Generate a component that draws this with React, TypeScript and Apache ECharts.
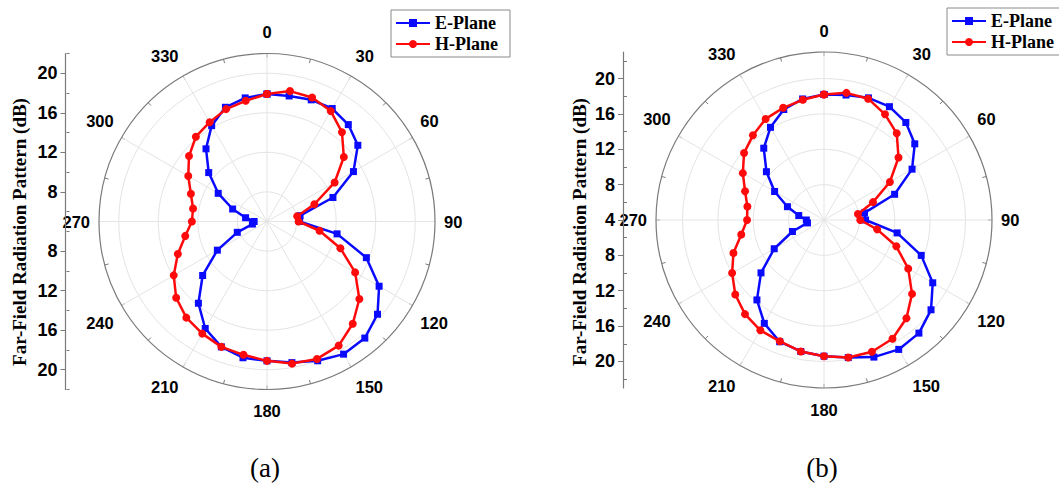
import React, { useEffect, useRef } from 'react';
import * as echarts from 'echarts';

// Angles (degrees) at which the patterns were sampled
const ANGLES = [0, 10, 20, 30, 40, 50, 60, 70, 80, 90, 100, 110, 120, 130, 140, 150, 160, 170,
  180, 190, 200, 210, 220, 230, 240, 250, 260, 270, 280, 290, 300, 310, 320, 330, 340, 350];

// (a) patterns, dB
const E_PLANE_A = [17.9, 17.9, 18.1, 18.2, 17.8, 17.0, 15.1, 12.1, 8.4, 8.3, 12.2, 15.7, 18.1, 19.6, 20.4, 20.5, 20.0, 19.5,
  19.1, 19.0, 18.5, 17.5, 15.8, 13.5, 10.8, 8.2, 6.5, 6.3, 7.2, 8.7, 10.7, 12.7, 14.6, 16.2, 17.3, 17.7];
const H_PLANE_A = [17.9, 18.4, 18.35, 17.9, 16.8, 15.15, 12.9, 10.1, 8.1, 8.2, 10.4, 12.9, 15.3, 17.2, 18.5, 19.5, 19.8, 19.6,
  19.1, 18.7, 18.5, 18.1, 17.7, 17.0, 15.9, 14.6, 13.4, 12.6, 12.6, 13.2, 14.2, 15.3, 16.2, 16.6, 17.1, 17.4];

// (b) patterns, dB
const E_PLANE_B = [18.2, 18.35, 18.7, 18.8, 18.4, 17.4, 15.5, 12.5, 8.65, 8.7, 12.4, 15.7, 18.2, 19.8, 20.7, 20.9, 20.5, 19.8,
  19.4, 19.1, 18.65, 17.5, 15.8, 13.3, 10.5, 7.8, 5.9, 6.0, 6.9, 8.4, 10.45, 12.5, 14.6, 16.1, 17.3, 17.9];
const H_PLANE_B = [18.2, 18.6, 18.6, 17.8, 16.8, 15.0, 12.6, 9.9, 7.9, 8.1, 10.1, 12.7, 15.0, 17.0, 18.5, 19.5, 19.85, 19.8,
  19.4, 19.1, 18.6, 18.4, 17.9, 17.1, 16.0, 14.9, 13.5, 12.7, 12.8, 13.5, 14.6, 15.8, 16.5, 17.2, 17.5, 17.8];

// Radial scales
const RANGE_A = [5, 22];
const RANGE_B = [4, 23];
const MAJOR_TICKS_A = [8, 12, 16, 20];
const MAJOR_TICKS_B = [4, 8, 12, 16, 20];
const MINOR_TICKS = [6, 10, 14, 18, 22];
const CIRCLES = [8, 12, 16, 20];

const SERIES_NAMES = ['E-Plane', 'H-Plane'];
const AXIS_TITLE = 'Far-Field Radiation Pattern (dB)';
const PANEL_LABELS = ['(a)', '(b)'];

const BLUE = '#0a0aff';
const RED = '#ff0a0a';
const SANS = 'Arial, "Liberation Sans", sans-serif';
const SERIF = '"Times New Roman", "Liberation Serif", serif';

function closedPairs(values: number[]) {
  const pts = ANGLES.map((a, i) => [values[i], a]);
  pts.push([values[0], 360]);
  return pts;
}

function mirrored(ticks: number[], center: number) {
  const out: number[] = [];
  ticks.forEach((t) => {
    const d = t - center;
    if (d === 0) out.push(0);
    else if (d > 0) out.push(d, -d);
  });
  return out.sort((a, b) => a - b);
}

export default function App() {
  const ref = useRef<HTMLDivElement>(null);
  useEffect(() => {
    if (!ref.current) return;
    const chart = echarts.init(ref.current, undefined, { renderer: 'svg' });

    const panels = [
      { center: [267, 221.5], radius: 168, range: RANGE_A, major: MAJOR_TICKS_A, axisX: 65.5, e: E_PLANE_A, h: H_PLANE_A, legendLeft: 391, legendTop: 10, titleX: 19, labelX: 265 },
      { center: [824, 220], radius: 168, range: RANGE_B, major: MAJOR_TICKS_B, axisX: 623, e: E_PLANE_B, h: H_PLANE_B, legendLeft: 947, legendTop: 8, titleX: 579, labelX: 822 },
    ];

    const polar: any[] = [];
    const angleAxis: any[] = [];
    const radiusAxis: any[] = [];
    const grid: any[] = [];
    const xAxis: any[] = [];
    const yAxis: any[] = [];
    const legend: any[] = [];
    const series: any[] = [];
    const graphic: any[] = [];

    panels.forEach((p, i) => {
      polar.push({ center: p.center, radius: p.radius });
      angleAxis.push({
        polarIndex: i,
        type: 'value',
        min: 0,
        max: 360,
        interval: 30,
        startAngle: 90,
        clockwise: true,
        axisLine: { show: true, lineStyle: { color: '#7a7a7a', width: 1.2 } },
        axisTick: { show: true, inside: true, length: 4, lineStyle: { color: '#7a7a7a' } },
        minorTick: { show: true, splitNumber: 2, length: 4, lineStyle: { color: '#7a7a7a' } },
        splitLine: { show: true, lineStyle: { color: '#e4e4e4', width: 1 } },
        axisLabel: {
          margin: 9,
          padding: [4, 0, 4, 0],
          color: '#000',
          fontSize: 16.5,
          fontWeight: 'bold',
          fontFamily: SANS,
          formatter: (v: number) => (v >= 360 ? '' : String(v)),
        },
      });
      radiusAxis.push({
        polarIndex: i,
        type: 'value',
        min: p.range[0],
        max: p.range[1],
        axisLine: { show: false },
        axisLabel: { show: false },
        axisTick: { show: false, customValues: CIRCLES },
        splitLine: { show: true, lineStyle: { color: '#e4e4e4', width: 1 } },
      });

      const span = p.range[1] - p.range[0];
      const c = p.range[0];
      const pxPerUnit = p.radius / span;
      grid.push({
        left: p.axisX,
        top: p.center[1] - span * pxPerUnit,
        width: 1,
        height: 2 * span * pxPerUnit,
      });
      xAxis.push({ gridIndex: i, type: 'value', show: false });
      const majorVals = mirrored(p.major, c);
      const minorVals = mirrored(MINOR_TICKS, c);
      yAxis.push({
        gridIndex: i,
        type: 'value',
        min: -span,
        max: span,
        axisLine: { show: true, lineStyle: { color: '#7a7a7a', width: 1.2 } },
        axisTick: { show: true, length: 5, customValues: majorVals, lineStyle: { color: '#7a7a7a' } },
        axisLabel: {
          customValues: majorVals,
          margin: 8,
          color: '#000',
          fontSize: 18,
          fontWeight: 'bold',
          fontFamily: SANS,
          formatter: (v: number) => String(Math.round(c + Math.abs(v))),
        },
        splitLine: { show: false },
      });
      yAxis.push({
        gridIndex: i,
        type: 'value',
        min: -span,
        max: span,
        axisLine: { show: false },
        axisTick: { show: true, length: 3, customValues: minorVals, lineStyle: { color: '#7a7a7a' } },
        axisLabel: { show: false },
        splitLine: { show: false },
      });

      legend.push({
        data: SERIES_NAMES,
        orient: 'vertical',
        left: p.legendLeft,
        top: p.legendTop,
        borderColor: '#8a8a8a',
        borderWidth: 1,
        padding: [4, 12, 4, 4],
        itemGap: 3,
        itemWidth: 34,
        itemHeight: 10,
        textStyle: { fontFamily: SERIF, fontWeight: 'bold', fontSize: 18, color: '#000' },
      });

      series.push({
        name: SERIES_NAMES[0],
        type: 'line',
        coordinateSystem: 'polar',
        polarIndex: i,
        data: closedPairs(p.e),
        symbol: 'rect',
        symbolSize: 7,
        lineStyle: { color: BLUE, width: 2.5 },
        itemStyle: { color: BLUE },
        z: 3,
      });
      series.push({
        name: SERIES_NAMES[1],
        type: 'line',
        coordinateSystem: 'polar',
        polarIndex: i,
        data: closedPairs(p.h),
        symbol: 'circle',
        symbolSize: 8,
        lineStyle: { color: RED, width: 2.5 },
        itemStyle: { color: RED },
        z: 4,
      });

      graphic.push({
        type: 'text',
        x: p.titleX,
        y: 232,
        rotation: Math.PI / 2,
        style: {
          text: AXIS_TITLE,
          fontFamily: SERIF,
          fontWeight: 'bold',
          fontSize: 19,
          fill: '#000',
          align: 'center',
          verticalAlign: 'middle',
        },
      });
      graphic.push({
        type: 'text',
        x: p.labelX,
        y: 468,
        style: {
          text: PANEL_LABELS[i],
          fontFamily: SERIF,
          fontSize: 27,
          fill: '#000',
          align: 'center',
          verticalAlign: 'middle',
        },
      });
    });

    chart.setOption({
      animation: false,
      backgroundColor: '#fff',
      polar,
      angleAxis,
      radiusAxis,
      grid,
      xAxis,
      yAxis,
      legend,
      series,
      graphic,
    });
    return () => chart.dispose();
  }, []);

  return <div ref={ref} style={{ position: 'fixed', left: 0, top: 0, width: 1059, height: 485 }} />;
}
